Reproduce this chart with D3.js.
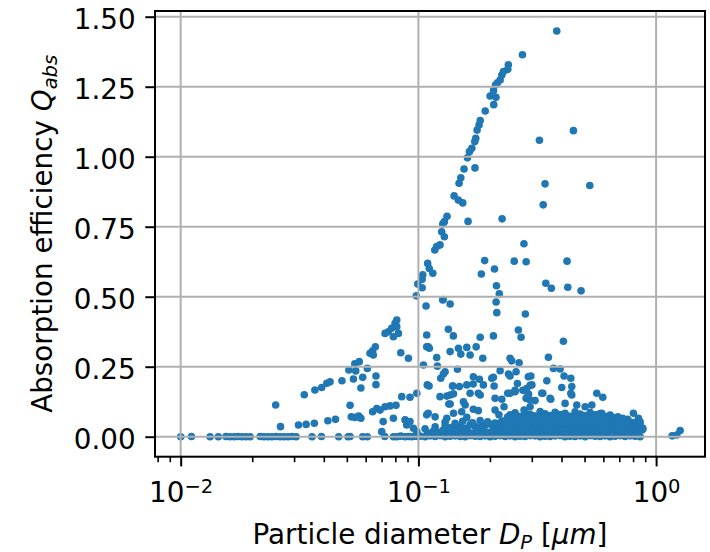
<!DOCTYPE html>
<html><head><meta charset="utf-8">
<script src="https://cdn.jsdelivr.net/npm/d3@7"></script>
<style>body{margin:0;background:#fff}text{font-family:"DejaVu Sans";fill:#000}</style>
</head><body><svg id="c" width="710" height="552"></svg>
<script>
// ---------- data: [particle diameter (µm), absorption efficiency] ----------
const zeroLine = [[0.0100,0.000],[0.0111,0.001],[0.0133,0.000],[0.0144,0.000],[0.0155,0.001],[0.0161,0.000],[0.0168,0.000],[0.0174,0.001],[0.0181,0.000],[0.0188,0.000],[0.0196,0.000],[0.0216,0.001],[0.0224,0.000],[0.0233,0.000],[0.0242,0.000],[0.0252,0.001],[0.0262,0.000],[0.0272,0.000],[0.0283,0.000],[0.0294,0.001],[0.0306,0.000],[0.0357,0.000],[0.0391,0.001],[0.0462,0.000],[0.0506,0.000],[0.0516,0.001],[0.0583,0.000],[0.0610,0.000],[0.0722,0.001],[0.0785,0.000],[0.0811,0.000],[0.0843,0.002],[0.0879,0.000],[0.0908,0.001],[0.0938,0.000],[0.0966,0.002],[0.0994,0.001]];
const lowBranch = [[0.0251,0.113],[0.0263,0.036],[0.0313,0.042],[0.0337,0.044],[0.0365,0.048],[0.0331,0.150],[0.0367,0.167],[0.0392,0.176],[0.0412,0.191],[0.0425,0.196],[0.0477,0.200],[0.0416,0.057],[0.0448,0.062],[0.0516,0.112],[0.0522,0.071],[0.0541,0.069],[0.0561,0.074],[0.0573,0.066],[0.0510,0.238],[0.0540,0.260],[0.0564,0.268],[0.0533,0.206],[0.0545,0.235],[0.0583,0.212],[0.0573,0.174],[0.0610,0.244],[0.0663,0.217],[0.0663,0.186],[0.0626,0.298],[0.0642,0.307],[0.0659,0.321],[0.0646,0.292],[0.0642,0.089],[0.0668,0.101],[0.0690,0.095],[0.0724,0.107],[0.0760,0.110],[0.0805,0.112],[0.0724,0.369],[0.0747,0.375],[0.0772,0.387],[0.0798,0.405],[0.0811,0.417],[0.0785,0.357],[0.0824,0.369],[0.0811,0.393],[0.0843,0.300],[0.0908,0.280],[0.0711,0.054],[0.0701,0.018],[0.0785,0.066],[0.0879,0.060],[0.0893,0.042],[0.0922,0.054],[0.0953,0.030],[0.0985,0.018],[0.0851,0.143],[0.0922,0.141],[0.0985,0.155]];
const mainCurve = [[0.0980,0.503],[0.0994,0.545],[0.1037,0.532],[0.1037,0.562],[0.1043,0.578],[0.1094,0.619],[0.1111,0.601],[0.1150,0.584],[0.1172,0.667],[0.1194,0.679],[0.1233,0.685],[0.1286,0.714],[0.1253,0.732],[0.1267,0.760],[0.1286,0.768],[0.1320,0.787],[0.1413,0.860],[0.1472,0.845],[0.1537,0.835],[0.1483,0.905],[0.1508,0.925],[0.1556,0.956],[0.1730,0.960],[0.1608,0.996],[0.1640,1.018],[0.1678,1.030],[0.1727,1.054],[0.1743,1.066],[0.1766,1.095],[0.1800,1.113],[0.1820,1.129],[0.1910,1.163],[0.2075,1.186],[0.2120,1.212],[0.2003,1.217],[0.2070,1.236],[0.2110,1.256],[0.2150,1.264],[0.2207,1.274],[0.2244,1.292],[0.2280,1.304],[0.2377,1.312],[0.2390,1.328],[0.2740,1.364],[0.3820,1.449]];
const upperScatter = [[0.323,1.059],[0.449,1.093],[0.341,0.903],[0.526,0.897],[0.335,0.828],[0.278,0.689],[0.225,0.778],[0.1618,0.769],[0.190,0.629],[0.253,0.627],[0.284,0.625],[0.422,0.627],[0.184,0.581],[0.209,0.599],[0.213,0.539],[0.3436,0.548],[0.3626,0.530],[0.425,0.534],[0.4835,0.521],[0.219,0.510],[0.127,0.490],[0.2123,0.481],[0.2137,0.443],[0.2818,0.438],[0.1266,0.488],[0.136,0.474],[0.1077,0.467],[0.1050,0.256],[0.1084,0.363],[0.1084,0.321],[0.1090,0.185],[0.1084,0.078]];
const midScatter = [[0.110,0.321],[0.1112,0.316],[0.1337,0.384],[0.1403,0.360],[0.136,0.304],[0.1474,0.316],[0.1508,0.295],[0.1598,0.319],[0.165,0.292],[0.175,0.321],[0.182,0.355],[0.1866,0.280],[0.2068,0.360],[0.2634,0.381],[0.2704,0.355],[0.4074,0.341],[0.1194,0.283],[0.1202,0.252],[0.1295,0.232],[0.1274,0.224],[0.1242,0.209],[0.146,0.241],[0.1703,0.214],[0.1806,0.205],[0.1877,0.185],[0.1598,0.185],[0.165,0.155],[0.182,0.149],[0.1396,0.181],[0.1488,0.179],[0.1109,0.181],[0.1233,0.143],[0.136,0.149],[0.136,0.117],[0.2036,0.209],[0.2082,0.181],[0.2207,0.236],[0.2244,0.134],[0.243,0.280],[0.247,0.271],[0.2653,0.264],[0.2576,0.232],[0.243,0.217],[0.261,0.190],[0.255,0.166],[0.243,0.155],[0.275,0.166],[0.2856,0.172],[0.2951,0.184],[0.2972,0.217],[0.2838,0.137],[0.3097,0.129],[0.3337,0.155],[0.3469,0.200],[0.3524,0.284],[0.3605,0.134],[0.370,0.244],[0.3946,0.242],[0.401,0.176],[0.410,0.217],[0.4377,0.209],[0.4418,0.179],[0.4418,0.149],[0.4637,0.113],[0.563,0.155],[0.5967,0.141],[0.5364,0.113],[0.591,0.084],[0.690,0.071],[0.1391,0.181],[0.170,0.188],[0.2068,0.212],[0.2393,0.224],[0.2901,0.214],[0.1317,0.145],[0.1405,0.153],[0.1343,0.117],[0.1547,0.125],[0.1573,0.113],[0.1787,0.155],[0.2102,0.137],[0.2376,0.155],[0.2551,0.161],[0.2811,0.164],[0.2907,0.152],[0.2951,0.131],[0.3002,0.185],[0.3304,0.155],[0.3581,0.137],[0.4377,0.155],[0.4141,0.119],[0.5027,0.107],[0.8027,0.084],[0.8423,0.066],[0.8556,0.054],[0.815,0.036],[0.871,0.024],[0.8235,0.048],[0.7057,0.038],[0.880,0.030]];
const bandRow0 = [[0.1016,0.002],[0.1067,0.000],[0.1120,0.003],[0.1176,0.001],[0.1234,0.004],[0.1295,0.000],[0.1360,0.002],[0.1427,0.003],[0.1498,0.001],[0.1573,0.000],[0.1650,0.004],[0.1732,0.002],[0.1818,0.001],[0.1908,0.003],[0.2003,0.000],[0.2102,0.002],[0.2207,0.004],[0.2316,0.001],[0.2431,0.003],[0.2551,0.000],[0.2678,0.002],[0.2811,0.001],[0.2951,0.004],[0.3097,0.003],[0.3251,0.000],[0.3412,0.002],[0.3581,0.001],[0.3759,0.003],[0.3946,0.004],[0.4141,0.000],[0.4347,0.002],[0.4563,0.001],[0.4789,0.003],[0.5027,0.000],[0.5277,0.004],[0.5538,0.002],[0.5813,0.001],[0.6102,0.003],[0.6405,0.000],[0.6723,0.002],[0.7057,0.004],[0.7407,0.001],[0.7775,0.003],[0.8161,0.002],[0.8564,0.000]];
const bandRow1 = [[0.1092,0.012],[0.1150,0.018],[0.1205,0.015],[0.1265,0.022],[0.1330,0.014],[0.1395,0.019],[0.1462,0.025],[0.1535,0.016],[0.1610,0.021],[0.1690,0.013],[0.1775,0.024],[0.1862,0.018],[0.1955,0.015],[0.2052,0.022],[0.2155,0.019],[0.2260,0.026],[0.2372,0.017],[0.2490,0.023],[0.2615,0.014],[0.2745,0.020],[0.2880,0.025],[0.3025,0.018],[0.3175,0.022],[0.3330,0.016],[0.3495,0.024],[0.3670,0.019],[0.3850,0.021],[0.4045,0.015],[0.4245,0.026],[0.4455,0.018],[0.4675,0.023],[0.4905,0.017],[0.5150,0.020],[0.5405,0.025],[0.5675,0.016],[0.5955,0.022],[0.6250,0.019],[0.6560,0.024],[0.6890,0.015],[0.7230,0.021],[0.7590,0.018],[0.7970,0.023],[0.8360,0.017]];
const bandRow2 = [[0.1067,0.028],[0.1176,0.035],[0.1295,0.038],[0.1360,0.032],[0.1427,0.041],[0.1498,0.036],[0.1573,0.030],[0.1650,0.043],[0.1732,0.037],[0.1818,0.033],[0.1908,0.040],[0.2003,0.045],[0.2102,0.035],[0.2207,0.039],[0.2316,0.042],[0.2431,0.034],[0.2551,0.044],[0.2678,0.038],[0.2811,0.041],[0.2951,0.036],[0.3097,0.046],[0.3251,0.040],[0.3412,0.035],[0.3581,0.043],[0.3759,0.039],[0.3946,0.045],[0.4141,0.037],[0.4347,0.042],[0.4563,0.034],[0.4789,0.044],[0.5027,0.040],[0.5277,0.038],[0.5538,0.046],[0.5813,0.036],[0.6102,0.041],[0.6405,0.043],[0.6723,0.035],[0.7057,0.039],[0.7407,0.042],[0.7775,0.037],[0.8161,0.033],[0.8450,0.040]];
const bandRow3 = [[0.1295,0.052],[0.1427,0.048],[0.1535,0.055],[0.1690,0.050],[0.1818,0.058],[0.1955,0.053],[0.2102,0.049],[0.2260,0.056],[0.2372,0.062],[0.2490,0.058],[0.2615,0.066],[0.2745,0.060],[0.2880,0.064],[0.3025,0.057],[0.3175,0.068],[0.3330,0.061],[0.3495,0.065],[0.3670,0.059],[0.3850,0.067],[0.4045,0.063],[0.4245,0.060],[0.4455,0.066],[0.4675,0.058],[0.4905,0.064],[0.5150,0.069],[0.5405,0.061],[0.5675,0.057],[0.5955,0.063],[0.6250,0.055],[0.6560,0.060],[0.6890,0.058],[0.7230,0.052],[0.7590,0.056],[0.7970,0.050],[0.8360,0.054]];
const bandRow4 = [[0.2431,0.078],[0.2551,0.085],[0.2678,0.072],[0.2811,0.088],[0.2951,0.080],[0.3097,0.074],[0.3251,0.090],[0.3412,0.082],[0.3581,0.076],[0.3759,0.087],[0.3946,0.079],[0.4141,0.084],[0.4347,0.073],[0.4563,0.089],[0.4789,0.081],[0.5027,0.075],[0.5277,0.086],[0.5538,0.078],[0.5813,0.083],[0.6102,0.072],[0.6405,0.077],[0.1405,0.084],[0.1521,0.089],[0.1702,0.098],[0.1787,0.093],[0.1598,0.069],[0.2102,0.095],[0.2182,0.078],[0.2292,0.107],[0.2783,0.095],[0.2951,0.107],[0.1100,0.084],[0.1176,0.071],[0.1316,0.066]];
const bandRow5 = [[0.2260,0.028],[0.2372,0.031],[0.2490,0.027],[0.2615,0.032],[0.2745,0.029],[0.2880,0.030],[0.3022,0.026],[0.3173,0.033],[0.3330,0.028],[0.3496,0.031],[0.3669,0.029],[0.3851,0.027],[0.4043,0.032],[0.4243,0.030],[0.4454,0.028],[0.4675,0.031],[0.4906,0.029],[0.5150,0.033],[0.5406,0.027],[0.5673,0.030],[0.5955,0.032],[0.6252,0.028],[0.6561,0.031],[0.6887,0.029],[0.7228,0.027],[0.7587,0.030],[0.7963,0.032],[0.8359,0.028],[0.8774,0.026]];
const bandRow6 = [[0.2207,0.050],[0.2316,0.053],[0.2431,0.048],[0.2551,0.052],[0.2678,0.055],[0.2811,0.049],[0.2951,0.051],[0.3097,0.054],[0.3251,0.047],[0.3412,0.052],[0.3581,0.050],[0.3759,0.056],[0.3946,0.049],[0.4141,0.053],[0.4347,0.051],[0.4563,0.048],[0.4789,0.054],[0.5027,0.050],[0.5277,0.052],[0.5538,0.049],[0.5813,0.055],[0.6102,0.051],[0.6405,0.047],[0.6723,0.053],[0.7057,0.050],[0.7407,0.048],[0.7775,0.052],[0.8161,0.049],[0.8564,0.046]];
const bandRow7 = [[0.2372,0.070],[0.2490,0.066],[0.2615,0.073],[0.2745,0.068],[0.2880,0.071],[0.3022,0.075],[0.3173,0.067],[0.3330,0.072],[0.3496,0.069],[0.3669,0.074],[0.3851,0.070],[0.4043,0.066],[0.4243,0.073],[0.4454,0.068],[0.4675,0.071],[0.4906,0.076],[0.5150,0.069],[0.5406,0.072],[0.5673,0.067],[0.5955,0.070],[0.6252,0.065],[0.6561,0.068],[0.6887,0.063],[0.7228,0.066],[0.7587,0.062]];
const farRight = [[1.168,0.003],[1.222,0.006],[1.262,0.022]];

const yTicks = [0, 0.25, 0.5, 0.75, 1.0, 1.25, 1.5];
const yTickLabels = ["0.00","0.25","0.50","0.75","1.00","1.25","1.50"];
const xTicks = [0.01, 0.1, 1];
const xTickExponents = ["\u22122", "\u22121", "0"];
const xMinorTicks = [0.008,0.009,0.02,0.03,0.04,0.05,0.06,0.07,0.08,0.09,0.2,0.3,0.4,0.5,0.6,0.7,0.8,0.9];

// ---------- layout ----------
const L = 155, R = 705, T = 11, B = 456.7;
const svg = d3.select("#c");
const x = d3.scaleLog().domain([0.007798, 1.6058]).range([L, R]);
const y = d3.scaleLinear().domain([-0.0714, 1.5204]).range([B, T]);

const all = [].concat(zeroLine, lowBranch, mainCurve, upperScatter, midScatter,
  bandRow0, bandRow1, bandRow2, bandRow3, bandRow4, bandRow5, bandRow6, bandRow7, farRight);

svg.append("g").selectAll("circle").data(all).join("circle")
  .attr("cx", d => x(d[0])).attr("cy", d => y(d[1])).attr("r", 3.8)
  .attr("fill", "#1f77b4");

// grid (drawn above points, like matplotlib default)
const grid = svg.append("g").attr("stroke", "#b0b0b0").attr("stroke-width", 2);
grid.selectAll(".gx").data(xTicks).join("line")
  .attr("x1", d => x(d)).attr("x2", d => x(d)).attr("y1", T).attr("y2", B);
grid.selectAll(".gy").data(yTicks).join("line")
  .attr("x1", L).attr("x2", R).attr("y1", d => y(d)).attr("y2", d => y(d));

// spines
svg.append("rect").attr("x", L).attr("y", T).attr("width", R - L).attr("height", B - T)
  .attr("fill", "none").attr("stroke", "#000").attr("stroke-width", 2);

// y axis
const ya = svg.append("g").attr("transform", `translate(${L},0)`)
  .call(d3.axisLeft(y).tickValues(yTicks).tickSize(9.7).tickPadding(9.7)
    .tickFormat((d, i) => yTickLabels[i]));
ya.select(".domain").remove();
ya.selectAll("line").attr("stroke", "#000").attr("stroke-width", 2);
ya.selectAll("text").attr("font-size", "27.8px").attr("font-family", "DejaVu Sans")
  .attr("dy", "0.42em");

// x axis minor
const xm = svg.append("g").attr("transform", `translate(0,${B})`)
  .call(d3.axisBottom(x).tickValues(xMinorTicks).tickSize(5.5).tickFormat(""));
xm.select(".domain").remove();
xm.selectAll("line").attr("stroke", "#000").attr("stroke-width", 1.6);

// x axis major
const xa = svg.append("g").attr("transform", `translate(0,${B})`)
  .call(d3.axisBottom(x).tickValues(xTicks).tickSize(9.7).tickFormat(""));
xa.select(".domain").remove();
xa.selectAll("line").attr("stroke", "#000").attr("stroke-width", 2);
xa.selectAll(".tick").each(function(d, i) {
  const t = d3.select(this).append("text").attr("y", 45.8).attr("text-anchor", "middle")
    .attr("font-size", "27.8px").attr("font-family", "DejaVu Sans").attr("fill", "#000");
  t.append("tspan").text("10");
  t.append("tspan").attr("font-size", "19.5px").attr("dy", -9.5).text(xTickExponents[i]);
});

// axis labels
const xl = svg.append("text").attr("x", (L + R) / 2).attr("y", 543.5)
  .attr("text-anchor", "middle").attr("font-size", "27.8px");
xl.append("tspan").text("Particle diameter ");
xl.append("tspan").attr("font-style", "italic").text("D");
xl.append("tspan").attr("font-style", "italic").attr("font-size", "19.5px").attr("dy", 5).text("P");
xl.append("tspan").attr("dy", -5).text(" [");
xl.append("tspan").attr("font-style", "italic").text("\u03bcm");
xl.append("tspan").text("]");

const yl = svg.append("text").attr("transform", `translate(52,${(T + B) / 2}) rotate(-90)`)
  .attr("text-anchor", "middle").attr("font-size", "27.8px");
yl.append("tspan").text("Absorption efficiency ");
yl.append("tspan").attr("font-style", "italic").text("Q");
yl.append("tspan").attr("font-style", "italic").attr("font-size", "19.5px").attr("dy", 5).text("abs");
</script></body></html>
